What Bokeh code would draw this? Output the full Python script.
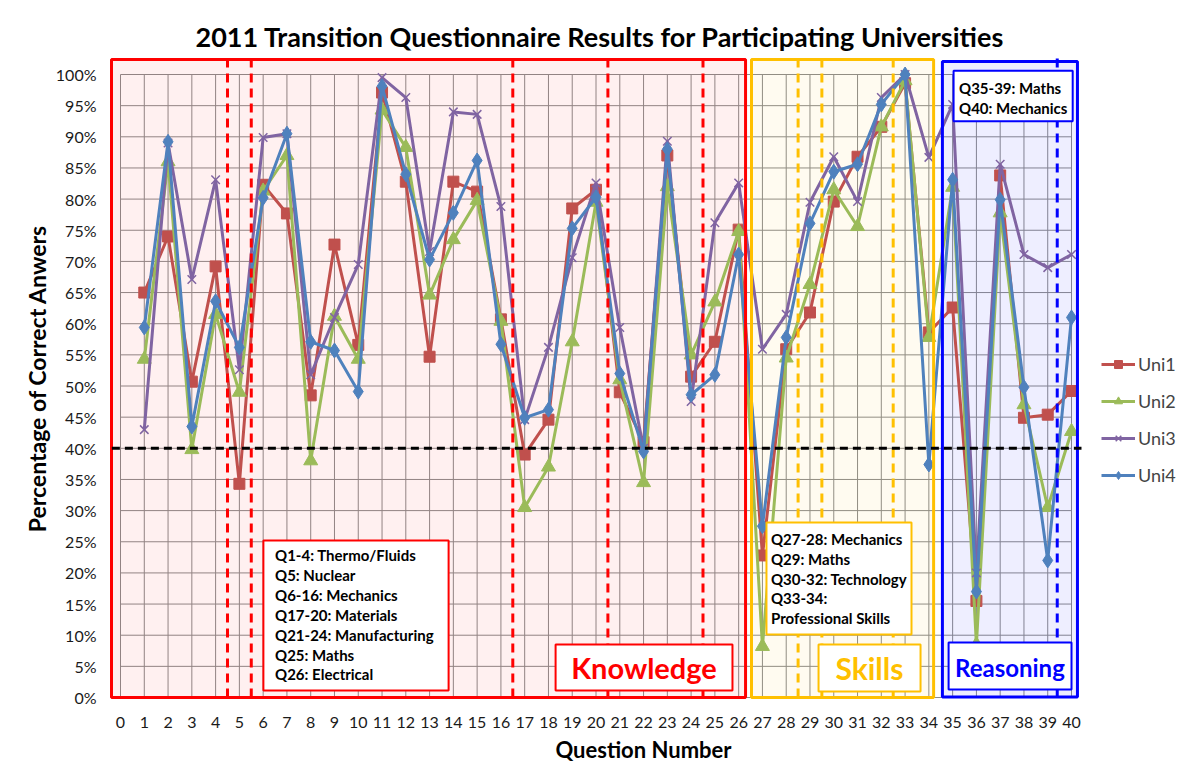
from bokeh.plotting import figure
from bokeh.models import (Range1d, FixedTicker, PrintfTickFormatter, Legend,
                          LegendItem)
from bokeh.core.properties import value
from bokeh.embed import file_html
from bokeh.resources import INLINE

# ---------------- data ----------------
questions = list(range(1, 41))
uni1 = [65.0, 74.0, 50.7, 69.2, 34.3, 82.3, 77.7, 48.5, 72.7, 56.6,
        97.1, 82.8, 54.7, 82.8, 81.2, 60.7, 39.0, 44.6, 78.5, 81.5,
        49.0, 41.0, 87.0, 51.5, 57.1, 75.1, 22.8, 55.9, 61.8, 79.6,
        86.8, 91.6, 98.6, 58.6, 62.6, 15.5, 83.8, 44.9, 45.4, 49.2]
uni2 = [54.3, 86.0, 39.8, 61.5, 49.0, 81.3, 87.0, 38.0, 61.2, 54.3,
        94.3, 88.3, 64.6, 73.5, 79.8, 60.4, 30.5, 37.0, 57.1, 79.5,
        51.0, 34.5, 82.0, 55.0, 63.5, 74.8, 8.2, 54.5, 66.3, 81.5,
        75.6, 91.6, 99.0, 57.8, 81.9, 8.5, 77.8, 47.0, 30.5, 42.7]
uni3 = [43.0, 89.0, 67.1, 83.1, 52.6, 89.9, 90.5, 51.8, 61.0, 69.5,
        99.5, 96.3, 71.6, 94.0, 93.6, 78.8, 44.6, 56.2, 70.6, 82.6,
        59.4, 40.0, 89.3, 47.5, 76.2, 82.6, 55.9, 61.5, 79.5, 86.8,
        79.6, 96.3, 100.0, 86.7, 95.2, 20.0, 85.6, 71.1, 69.0, 71.1]
uni4 = [59.4, 89.2, 43.5, 63.6, 56.2, 80.2, 90.5, 57.1, 55.7, 49.1,
        98.1, 84.0, 70.3, 77.8, 86.2, 56.7, 44.9, 46.2, 75.3, 80.3,
        52.0, 39.5, 88.0, 48.6, 51.8, 71.1, 27.5, 57.8, 76.1, 84.4,
        85.6, 95.2, 100.0, 37.4, 83.1, 17.0, 79.9, 49.8, 22.0, 61.0]
series_names = ["Uni1", "Uni2", "Uni3", "Uni4"]
x_ticks = list(range(0, 41))
y_ticks = list(range(0, 101, 5))
threshold = 40

# section dividers (between question groups)
red_dividers = [4.5, 5.5, 16.5, 20.5, 24.5]
yellow_dividers = [28.5, 29.5, 32.5]
blue_dividers = [39.4]

knowledge_notes = ["Q1-4: Thermo/Fluids", "Q5: Nuclear", "Q6-16: Mechanics",
                   "Q17-20: Materials", "Q21-24: Manufacturing", "Q25: Maths",
                   "Q26: Electrical"]
skills_notes = ["Q27-28: Mechanics", "Q29: Maths", "Q30-32: Technology",
                "Q33-34:", "Professional Skills"]
reasoning_notes = ["Q35-39: Maths", "Q40: Mechanics"]

# ---------------- style ----------------
FONT = "Lato"
colors = ["#C0504D", "#9BBB59", "#8064A2", "#4F81BD"]
RED, YEL, BLU = "#FF0000", "#FFC000", "#0000FF"

W, H = 1179, 765
MB_L, MB_R, MB_T, MB_B = 109, 2, 57, 66
PX_PER_X = 23.775
PX_PER_Y = 6.23
X0 = -0.463
X1 = X0 + (W - MB_L - MB_R) / PX_PER_X
Y0 = -0.32
Y1 = Y0 + (H - MB_T - MB_B) / PX_PER_Y
PLOT_XMAX = 40.42

p = figure(width=W, height=H, output_backend="svg", toolbar_location=None,
           x_range=Range1d(X0, X1), y_range=Range1d(Y0, Y1),
           min_border_left=MB_L, min_border_right=MB_R,
           min_border_top=MB_T, min_border_bottom=MB_B)
p.background_fill_color = "white"
p.border_fill_color = "white"
p.outline_line_color = None
p.xgrid.visible = False
p.ygrid.visible = False

p.title.text = "2011 Transition Questionnaire Results for Participating Universities"
p.title.text_font = FONT
p.title.text_font_size = "27px"
p.title.text_font_style = "bold"
p.title.align = "left"
p.title.offset = 86
p.title.text_color = "black"
p.title.standoff = 9

for ax in (p.xaxis[0], p.yaxis[0]):
    ax.axis_line_color = None
    ax.major_tick_line_color = None
    ax.minor_tick_line_color = None
    ax.major_label_text_font = FONT
    ax.major_label_text_font_size = "16px"
    ax.major_label_text_color = "#1a1a1a"
    ax.axis_label_text_font = FONT
    ax.axis_label_text_font_style = "bold"
    ax.axis_label_text_font_size = "22px"
    ax.axis_label_text_color = "black"

p.xaxis.ticker = FixedTicker(ticks=x_ticks)
p.xaxis.major_label_standoff = 11
p.xaxis.axis_label = "Question Number"
p.xaxis.axis_label_standoff = 5
p.yaxis.ticker = FixedTicker(ticks=y_ticks)
p.yaxis.formatter = PrintfTickFormatter(format="%d%%")
p.yaxis.major_label_standoff = 7
p.yaxis.axis_label = "Percentage of Correct Anwers"
p.yaxis.axis_label_text_font_size = "23px"
p.yaxis.axis_label_standoff = 2

# grid (only over the data extent 0..40 / 0..100)
p.segment(x0=x_ticks, x1=x_ticks, y0=[0] * len(x_ticks), y1=[100] * len(x_ticks),
          line_color="#8C8C8C", line_width=1)
p.segment(x0=[0] * len(y_ticks), x1=[40] * len(y_ticks), y0=y_ticks, y1=y_ticks,
          line_color="#8C8C8C", line_width=1)

# section regions
regions = [(-0.38, 26.29, 0, 102.4, RED, 0.06),
           (26.54, 34.20, 0, 102.4, YEL, 0.06),
           (34.57, 40.25, 0.1, 102.1, BLU, 0.065)]
for l, r, b, t, c, a in regions:
    p.quad(left=[l], right=[r], bottom=[b], top=[t], fill_color=c, fill_alpha=a,
           line_color=None)

# data series
markers = ["square", "triangle", "x", "diamond"]
sizes = [11, 14, 12, 15]
items = []
for name, ys, c, m, s in zip(series_names, [uni1, uni2, uni3, uni4], colors, markers, sizes):
    ln = p.line(questions, ys, line_color=c, line_width=3)
    if m == "x":
        sc = p.scatter(questions, ys, marker=m, size=s, line_color=c, line_width=1.5)
    else:
        sc = p.scatter(questions, ys, marker=m, size=s, fill_color=c, line_color=c)
    items.append(LegendItem(label=name, renderers=[ln, sc]))

# dashed dividers
for xs, c in ((red_dividers, RED), (yellow_dividers, YEL), (blue_dividers, BLU)):
    p.segment(x0=xs, x1=xs, y0=[0] * len(xs), y1=[102.7] * len(xs),
              line_color=c, line_width=3, line_dash="9 6")

# region outlines
for l, r, b, t, c, a in regions:
    p.quad(left=[l], right=[r], bottom=[b], top=[t], fill_color=None,
           line_color=c, line_width=3)

# threshold line
p.segment(x0=[X0 + 0.1], x1=[PLOT_XMAX], y0=[threshold], y1=[threshold],
          line_color="black", line_width=3, line_dash="8 5")

# annotation boxes
def box(l, r, b, t, c):
    p.quad(left=[l], right=[r], bottom=[b], top=[t], fill_color="white",
           line_color=c, line_width=2)

def lines(x, ys, texts, size="15px", color="black"):
    p.text(x=[x] * len(texts), y=ys, text=texts, text_font=value(FONT),
           text_font_style="bold", text_font_size=size, text_color=color,
           text_baseline="middle", text_align="left")

box(6.01, 13.80, 1.12, 25.2, RED)
lines(6.50, [22.8, 19.6, 16.4, 13.2, 10.0, 6.8, 3.7], knowledge_notes)

box(27.17, 33.27, 10.1, 28.1, YEL)
lines(27.36, [25.5, 22.3, 19.1, 15.9, 12.7], skills_notes)

box(35.04, 40.05, 92.5, 100.6, BLU)
lines(35.27, [97.9, 94.7], reasoning_notes)

box(18.30, 25.74, 1.12, 8.5, RED)
box(29.36, 33.65, 0.96, 8.5, YEL)
box(34.83, 40.0, 1.28, 8.83, BLU)
for x, t, c, s in ((22.02, "Knowledge", RED, "29px"), (31.5, "Skills", YEL, "30px"),
                   (37.41, "Reasoning", BLU, "24px")):
    p.text(x=[x], y=[4.8], text=[t], text_font=value(FONT), text_font_style="bold",
           text_font_size=s, text_color=c, text_align="center", text_baseline="middle")

legend = Legend(items=items, location=(992, 213))
legend.background_fill_alpha = 0
legend.border_line_alpha = 0
legend.label_text_font = FONT
legend.label_text_font_size = "18px"
legend.glyph_width = 34
legend.glyph_height = 20
legend.label_height = 20
legend.spacing = 15
legend.padding = 0
legend.margin = 0
legend.label_standoff = 3
p.add_layout(legend)

open("out.html", "w").write(file_html(p, INLINE))
